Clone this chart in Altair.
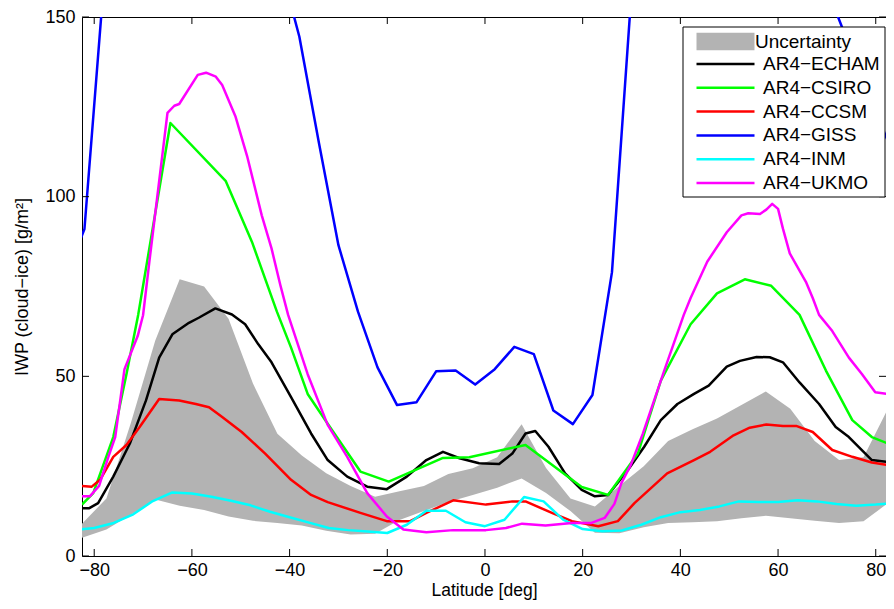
import altair as alt
import pandas as pd

FONT = "Liberation Sans"

band_name = ["Uncertainty"]
band_color = ["#b3b3b3"]
line_names = ["AR4−ECHAM", "AR4−CSIRO", "AR4−CCSM", "AR4−GISS", "AR4−INM", "AR4−UKMO"]
line_colors = ["#000000", "#00ff00", "#ff0000", "#0000ff", "#00ffff", "#ff00ff"]

x_ticks = [-80, -60, -40, -20, 0, 20, 40, 60, 80]
y_ticks = [0, 50, 100, 150]

band_lat = [-82.5, -77.5, -72.5, -67.5, -62.5, -57.5, -52.5, -47.5, -42.5, -37.5, -32.5, -27.5,
            -22.5, -17.5, -12.5, -7.5, -2.5, 2.5, 7.5, 12.5, 17.5, 22.5, 27.5, 32.5, 37.5, 42.5,
            47.5, 52.5, 57.5, 62.5, 67.5, 72.5, 77.5, 82.5]
band_upper = [9, 16, 37, 60, 77, 75, 66, 48, 34, 28, 23, 19.5, 16.5, 18, 19.5, 22.8, 24.4, 27.5,
              36.7, 24.5, 16, 13.8, 19.5, 25, 32, 35.3, 38.3, 42, 45.8, 41, 32, 26.7, 27.5, 41]
band_lower = [5.1, 7.4, 11.5, 15.7, 14, 12.8, 11, 9.8, 9.2, 8.5, 7, 6, 6.2, 10, 12.5, 15, 17, 19,
              21.6, 17.5, 12.5, 6.5, 6.3, 8, 9.2, 9.4, 9.7, 10.5, 11.2, 10.5, 9.8, 9.2, 9.7, 14.7]

echam_lat = [-82.5, -81, -79.2, -76.1, -72.7, -69.4, -66.7, -64, -60.6, -58.6, -55.2, -51.8, -49.1,
             -46.4, -43.7, -39.7, -35.6, -32.2, -28.2, -24.1, -20.1, -16, -12, -8.6, -5.2, -1.2,
             2.9, 5.6, 8.3, 10.3, 13, 16.4, 19.8, 22.5, 25.2, 29.3, 32.6, 36, 39.4, 42.8, 45.8,
             49.5, 52.2, 55.6, 58.3, 61, 64.4, 68.4, 71.8, 74.5, 79.2, 82.5]
echam_val = [13.3, 13.3, 14.7, 22.1, 31.3, 43.3, 55.2, 61.7, 64.9, 66.3, 68.9, 67.2, 64.5, 58.9,
             53.9, 44.2, 34.1, 26.7, 22.1, 19.3, 18.6, 22.1, 26.7, 29, 27.2, 25.8, 25.6, 28.5,
             34.1, 34.8, 30.4, 23, 18.4, 16.6, 17, 24, 30.4, 37.8, 42.3, 45.1, 47.4, 52.7, 54.3,
             55.4, 55.3, 53.9, 48.3, 42.3, 35.9, 33.1, 26.7, 26.2]

csiro_lat = [-82.5, -80.2, -76.1, -73.4, -71, -64.4, -53.1, -47.7, -42.6, -39.7, -36.3, -32.2,
             -25.5, -19.7, -8.6, -3.2, 8.3, 19.8, 25.2, 31.3, 36, 42.1, 47.5, 53.2, 58.6, 64.4,
             69.8, 75.2, 79.2, 82.5]
csiro_val = [14.3, 17.5, 33.1, 50.6, 67.1, 120.5, 104.4, 87.4, 68, 58, 45.1, 36.8, 23.5, 20.7,
             27.3, 27.5, 30.9, 19.2, 17, 28.5, 48.8, 64.5, 73.1, 77, 75.2, 67.1, 51.6, 37.8, 33.1, 31.3]

ccsm_lat = [-82.5, -80.5, -78.8, -76.1, -73.4, -70.7, -66.7, -62.6, -59.2, -56.5, -53.8, -49.8,
            -45, -39.7, -35.6, -32.2, -25.5, -20.1, -15.3, -12, -6.5, 0.2, 5.6, 8.3, 13.7, 17.8,
            23.2, 27.2, 30.6, 37.3, 42.8, 46.1, 50.9, 54.2, 57.6, 61, 63.7, 67.1, 71.1, 75.2,
            79.2, 82.5]
ccsm_val = [19.5, 19.3, 21.2, 27.6, 30.9, 35.9, 43.7, 43.3, 42.3, 41.4, 38.7, 34.5, 28.5, 21.2,
            17, 15, 12, 9.7, 9.7, 12, 15.5, 14.3, 15.2, 15.2, 12, 9.7, 8.3, 9.7, 14.7, 23, 26.7,
            29, 33.6, 35.7, 36.6, 36.2, 36.2, 34.5, 29.5, 27.6, 26, 25.3]

giss_lat = [-86, -82, -78, -74, -70, -66, -62, -58, -54, -50, -46, -42, -38, -34, -30, -26, -22,
            -18, -14, -10, -6, -2, 2, 6, 10, 14, 18, 22, 26, 30, 34, 38, 42, 46, 50, 54, 58, 62,
            66, 70, 74, 78, 82, 86]
giss_val = [77, 91, 160, 210, 250, 275, 290, 290, 275, 250, 215, 165, 144.5, 115, 86.5, 68, 52.5,
            42, 42.8, 51.4, 51.6, 47.7, 52, 58.2, 56.2, 40.5, 36.7, 44.8, 79, 157, 200, 240, 270,
            290, 300, 300, 280, 240, 195, 158, 144, 131, 117, 105]

inm_lat = [-84, -80, -76, -72, -68, -64, -60, -56, -52, -48, -44, -40, -36, -32, -28, -24, -20,
           -16, -12, -8, -4, 0, 4, 8, 12, 16, 20, 24, 28, 32, 36, 40, 44, 48, 52, 56, 60, 64, 68,
           72, 76, 80, 84]
inm_val = [7.2, 7.8, 9.2, 11.6, 15.3, 17.7, 17.4, 16.5, 15.4, 14.1, 12.3, 10.8, 9.3, 7.8, 7.2,
           6.8, 6.4, 8.7, 12.6, 12.6, 9.4, 8.3, 10.1, 16.4, 15.2, 10.1, 7.5, 6.9, 7.1, 8.7, 10.8,
           12.2, 12.8, 13.8, 15.2, 15, 15, 15.5, 15.2, 14.5, 14, 14.3, 14.8]

ukmo_lat = [-82.5, -80.9, -79, -77.1, -75.7, -73.8, -71.1, -70, -68.7, -65, -63.6, -62.6, -58.8,
            -57.1, -55.1, -53.8, -51.1, -48.7, -45.7, -43.7, -41.9, -40.3, -36.3, -32.2, -28.2,
            -24.1, -20.1, -16.7, -12, -6.5, 0.2, 4.3, 7.6, 12.4, 17.8, 21.8, 24.5, 26.5, 27.9,
            29.9, 32.3, 36.7, 40.7, 42.1, 45.5, 49.5, 52.5, 53.9, 56.3, 57.6, 58.8, 60, 61, 62.4,
            65.7, 67.1, 68.4, 71.1, 74.5, 77.2, 79.9, 82.5]
ukmo_val = [16.6, 16.6, 19.5, 27.6, 33.1, 52, 61.2, 67, 82, 123.3, 125.3, 125.8, 133.9, 134.5,
            133.4, 131.1, 122.4, 111.3, 94.8, 85.6, 75.4, 67.1, 50.6, 36.5, 27.6, 17.5, 11, 7.4,
            6.6, 7.2, 7.2, 7.8, 9, 8.5, 9.2, 9.2, 10.6, 14.5, 20.2, 25.5, 34, 51.6, 67.1, 71.8,
            81.9, 90.1, 94.8, 95.4, 95.2, 96.4, 98, 96.6, 91.1, 84.2, 76.3, 71.8, 67.1, 62.6, 55.2,
            50.6, 45.6, 45.1]

line_series = [
    ("AR4−ECHAM", echam_lat, echam_val),
    ("AR4−CSIRO", csiro_lat, csiro_val),
    ("AR4−CCSM", ccsm_lat, ccsm_val),
    ("AR4−GISS", giss_lat, giss_val),
    ("AR4−INM", inm_lat, inm_val),
    ("AR4−UKMO", ukmo_lat, ukmo_val),
]

lines_df = pd.concat(
    [pd.DataFrame({"series": name, "order": i, "lat": la, "val": va})
     for i, (name, la, va) in enumerate(line_series)],
    ignore_index=True,
)
band_df = pd.DataFrame({"series": "Uncertainty", "lat": band_lat, "upper": band_upper, "lower": band_lower})
xt_df = pd.DataFrame({"t": x_ticks})
yt_df = pd.DataFrame({"t": y_ticks})
box_df = pd.DataFrame({"k": [0]})

W, H = 804, 539
PAD = {"left": 74, "top": 9, "right": 0, "bottom": 45}

xscale = alt.Scale(domain=[-82.5, 82.1], nice=False, zero=False)
yscale = alt.Scale(domain=[0, 150], nice=False, zero=False)

common_legend = dict(
    title=None,
    orient="none",
    legendX=601,
    padding=5,
    labelFont=FONT,
    labelFontSize=19,
    labelColor="black",
    labelLimit=300,
    rowPadding=3.8,
    symbolSize=100,
    symbolOffset=28,
)

band_legend = alt.Legend(
    legendY=10,
    symbolType="M-5.8,-1.75H5.8V1.75H-5.8Z",
    symbolStrokeWidth=0,
    labelOffset=20,
    **common_legend,
)
line_legend = alt.Legend(
    legendY=32.5,
    symbolType="M-5.8,0H5.8",
    symbolStrokeWidth=2.5,
    symbolFillColor="transparent",
    labelOffset=28,
    **common_legend,
)

x_axis = alt.Axis(
    values=x_ticks, ticks=False, domain=False, grid=False, labelFlush=False,
    labelFont=FONT, labelFontSize=18, labelColor="black", labelPadding=5,
    title="Latitude [deg]", titleFont=FONT, titleFontSize=17.5, titleFontWeight="normal",
    titleColor="black", titlePadding=2,
)
y_axis = alt.Axis(
    values=y_ticks, ticks=False, domain=False, grid=False, labelFlush=False,
    labelFont=FONT, labelFontSize=18, labelColor="black", labelPadding=7,
    title="IWP (cloud−ice) [g/m²]", titleFont=FONT, titleFontSize=18, titleFontWeight="normal",
    titleColor="black", titlePadding=13,
)

band = alt.Chart(band_df).mark_area(opacity=1, clip=True).encode(
    x=alt.X("lat:Q", scale=xscale, axis=x_axis),
    y=alt.Y("upper:Q", scale=yscale, axis=y_axis),
    y2="lower:Q",
    fill=alt.Fill("series:N", scale=alt.Scale(domain=band_name, range=band_color), legend=band_legend),
)

lines = alt.Chart(lines_df).mark_line(strokeWidth=2.5, clip=True, strokeJoin="round").encode(
    x=alt.X("lat:Q", scale=xscale),
    y=alt.Y("val:Q", scale=yscale),
    stroke=alt.Stroke("series:N", scale=alt.Scale(domain=line_names, range=line_colors), legend=line_legend),
    order=alt.Order("order:Q"),
    detail="series:N",
)

legend_box = alt.Chart(box_df).mark_rect(fill="white", stroke="black", strokeWidth=1).encode(
    x=alt.value(601), x2=alt.value(803), y=alt.value(10), y2=alt.value(180))

tick_len = 7
bottom_ticks = alt.Chart(xt_df).mark_rule(color="black", strokeWidth=1).encode(
    x=alt.X("t:Q", scale=xscale), y=alt.value(H), y2=alt.value(H - tick_len))
top_ticks = alt.Chart(xt_df).mark_rule(color="black", strokeWidth=1).encode(
    x=alt.X("t:Q", scale=xscale), y=alt.value(0), y2=alt.value(tick_len))
left_ticks = alt.Chart(yt_df).mark_rule(color="black", strokeWidth=1).encode(
    y=alt.Y("t:Q", scale=yscale), x=alt.value(0), x2=alt.value(tick_len))
right_ticks = alt.Chart(yt_df).mark_rule(color="black", strokeWidth=1).encode(
    y=alt.Y("t:Q", scale=yscale), x=alt.value(W), x2=alt.value(W - tick_len))

chart = alt.layer(
    band, lines, bottom_ticks, top_ticks, left_ticks, right_ticks, legend_box
).resolve_scale(fill="independent", stroke="independent").properties(
    width=W,
    height=H,
    autosize=alt.AutoSizeParams(type="none"),
    padding=PAD,
    background="white",
).configure_view(stroke="black", strokeWidth=1)

chart.save("out.html", embed_options={"renderer": "svg", "actions": False})
